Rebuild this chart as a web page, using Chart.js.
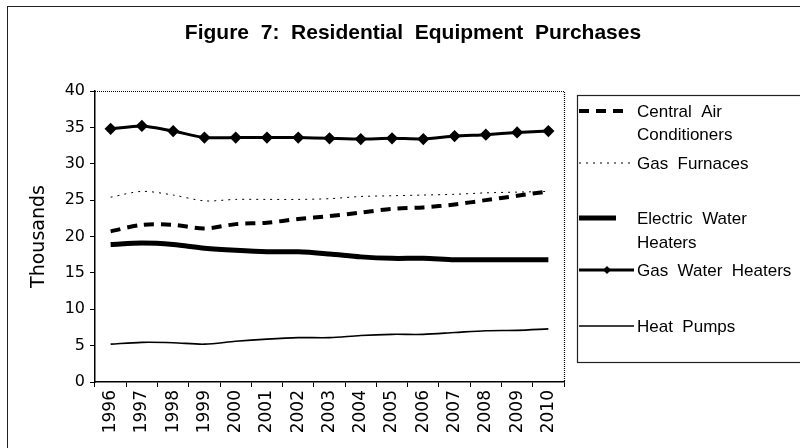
<!DOCTYPE html>
<html>
<head>
<meta charset="utf-8">
<script src="https://cdn.jsdelivr.net/npm/chart.js@4.4.0/dist/chart.umd.min.js"></script>
<style>
  html, body { margin: 0; padding: 0; background: #fff; }
  #wrap { width: 800px; height: 448px; position: relative; }
</style>
</head>
<body>
<div id="wrap"><canvas id="c" width="800" height="448"></canvas></div>
<script>
// valores (miles)
const YEARS = ['1996', '1997', '1998', '1999', '2000', '2001', '2002', '2003', '2004', '2005', '2006', '2007', '2008', '2009', '2010'];
const CENTRAL_AIR = [20.7, 21.6, 21.6, 21.1, 21.7, 21.9, 22.4, 22.8, 23.3, 23.8, 24.0, 24.4, 25.0, 25.6, 26.2];
const GAS_FURNACES = [25.4, 26.2, 25.7, 24.9, 25.1, 25.1, 25.1, 25.2, 25.5, 25.6, 25.7, 25.8, 26.0, 26.1, 26.2];
const ELEC_WATER = [18.9, 19.1, 18.9, 18.4, 18.1, 17.9, 17.9, 17.6, 17.2, 17.0, 17.0, 16.8, 16.8, 16.8, 16.8];
const GAS_WATER = [34.8, 35.2, 34.5, 33.6, 33.6, 33.6, 33.6, 33.5, 33.4, 33.5, 33.4, 33.8, 34.0, 34.3, 34.5];
const HEAT_PUMPS = [5.2, 5.45, 5.4, 5.2, 5.6, 5.9, 6.1, 6.1, 6.4, 6.55, 6.55, 6.8, 7.05, 7.1, 7.3];
const LEGEND_TEXT = [['Central  Air', 'Conditioners'], ['Gas  Furnaces'], ['Electric  Water', 'Heaters'], ['Gas  Water  Heaters'], ['Heat  Pumps']];
const TITLE = 'Figure  7:  Residential  Equipment  Purchases';
const Y_TITLE = 'Thousands';

const TEXT_FONT = '"Liberation Sans", Arial, Helvetica, sans-serif';
const NUM_FONT = '"DejaVu Sans", sans-serif';

// marco, título, borde punteado y leyenda
const decor = {
  id: 'decor',
  beforeDraw(chart) {
    const ctx = chart.ctx;
    ctx.save();
    ctx.strokeStyle = '#222';
    ctx.lineWidth = 1;
    ctx.strokeRect(7.5, 6.5, 820, 460);
    ctx.restore();
  },
  afterDraw(chart) {
    const ctx = chart.ctx;
    const a = chart.chartArea;
    ctx.save();
    // título
    ctx.fillStyle = '#000';
    ctx.font = 'bold 21px ' + TEXT_FONT;
    ctx.textAlign = 'center';
    ctx.textBaseline = 'middle';
    ctx.fillText(TITLE, 413, 33);

    // borde superior y derecho punteado
    ctx.strokeStyle = '#000';
    ctx.lineWidth = 1.2;
    ctx.setLineDash([1, 1]);
    ctx.beginPath();
    ctx.moveTo(a.left, a.top + 0.5);
    ctx.lineTo(a.right + 0.5, a.top + 0.5);
    ctx.lineTo(a.right + 0.5, a.bottom);
    ctx.stroke();
    ctx.setLineDash([]);

    // leyenda
    ctx.lineWidth = 1.2;
    ctx.strokeStyle = '#222';
    ctx.strokeRect(577.5, 95.5, 300, 267);
    const rows = [[111, 134], [163], [218, 242], [270], [326]];
    const ds = chart.data.datasets;
    ctx.font = '17px ' + TEXT_FONT;
    ctx.textAlign = 'left';
    ds.forEach((d, i) => {
      const y = rows[i][0];
      ctx.strokeStyle = '#000';
      ctx.lineWidth = d.borderWidth;
      ctx.setLineDash(d.borderDash || []);
      ctx.beginPath();
      const x1 = i === 2 ? 616 : (i === 0 ? 626 : 634);
      ctx.moveTo(579, y);
      ctx.lineTo(x1, y);
      ctx.stroke();
      ctx.setLineDash([]);
      if (d.pointRadius > 0) {
        ctx.fillStyle = '#000';
        ctx.beginPath();
        ctx.moveTo(607, y - 4);
        ctx.lineTo(611, y);
        ctx.lineTo(607, y + 4);
        ctx.lineTo(603, y);
        ctx.closePath();
        ctx.fill();
      }
      ctx.fillStyle = '#000';
      LEGEND_TEXT[i].forEach((t, j) => ctx.fillText(t, 637, rows[i][j] + 1));
    });
    ctx.restore();
  }
};

new Chart(document.getElementById('c'), {
  type: 'line',
  data: {
    labels: YEARS,
    datasets: [
      { label: 'Central Air Conditioners', data: CENTRAL_AIR, borderColor: '#000', borderWidth: 4, borderDash: [10, 7], pointRadius: 0, tension: 0.3 },
      { label: 'Gas Furnaces', data: GAS_FURNACES, borderColor: '#000', borderWidth: 1, borderDash: [2, 5], pointRadius: 0, tension: 0.3 },
      { label: 'Electric Water Heaters', data: ELEC_WATER, borderColor: '#000', borderWidth: 5, pointRadius: 0, tension: 0.3 },
      { label: 'Gas Water Heaters', data: GAS_WATER, borderColor: '#000', backgroundColor: '#000', borderWidth: 3, pointStyle: 'rectRot', pointRadius: 4, tension: 0.2 },
      { label: 'Heat Pumps', data: HEAT_PUMPS, borderColor: '#000', borderWidth: 1.6, pointRadius: 0, tension: 0.3 },
    ],
  },
  options: {
    responsive: false,
    animation: false,
    layout: { padding: { left: 10, right: 236, top: 91, bottom: 0 } },
    plugins: { legend: { display: false }, tooltip: { enabled: false } },
    scales: {
      x: {
        offset: true,
        afterFit: (s) => { s.height = 66; },
        grid: { display: true, offset: true, drawOnChartArea: false, tickLength: 5, color: '#000' },
        border: { color: '#000', width: 1.5 },
        ticks: { minRotation: 90, maxRotation: 90, autoSkip: false, padding: 3, color: '#000', font: { family: NUM_FONT, size: 17 } },
      },
      y: {
        min: 0,
        max: 40,
        afterFit: (s) => { s.width = 85; },
        grid: { drawOnChartArea: false, tickLength: 5, color: '#000' },
        border: { color: '#000', width: 1.5 },
        ticks: { stepSize: 5, padding: 5, color: '#000', font: { family: NUM_FONT, size: 16 } },
        title: { display: true, text: Y_TITLE, color: '#000', font: { family: NUM_FONT, size: 19 }, padding: { top: 18, bottom: 0 } },
      },
    },
  },
  plugins: [decor],
});
</script>
</body>
</html>
